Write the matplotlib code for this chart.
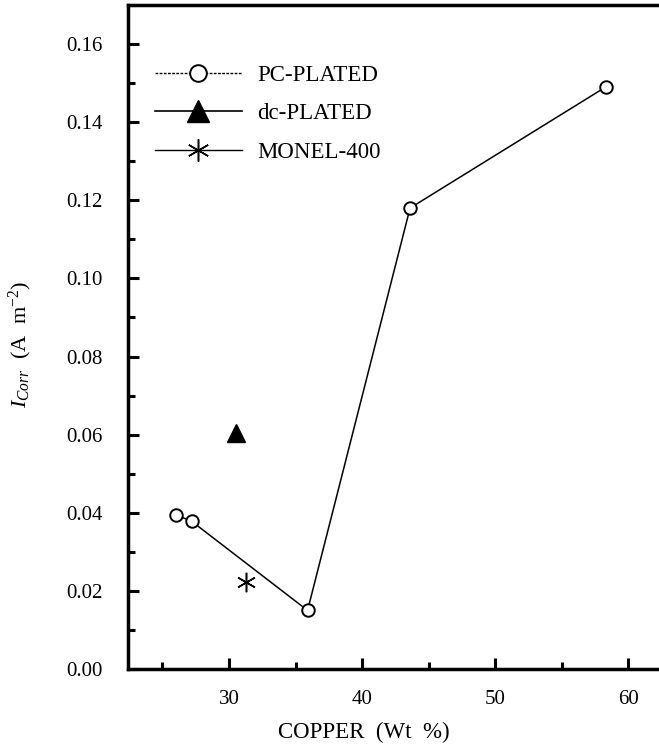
import matplotlib
matplotlib.use('Agg')
import matplotlib.pyplot as plt
import matplotlib.lines as mlines
from matplotlib.ticker import MultipleLocator

plt.rcParams['font.family'] = ['Liberation Serif', 'DejaVu Serif']
plt.rcParams['mathtext.fontset'] = 'custom'
plt.rcParams['mathtext.rm'] = 'Liberation Serif'
plt.rcParams['mathtext.it'] = 'Liberation Serif:italic'

# 数据
pc_copper = [26.0, 27.2, 35.9, 43.6, 58.3]
pc_icorr = [0.0395, 0.0378, 0.0150, 0.118, 0.149]
dc_copper = [30.5]
dc_icorr = [0.0605]
monel_copper = [31.3]
monel_icorr = [0.0222]
x_ticks = [30, 40, 50, 60]
y_ticks = [0.00, 0.02, 0.04, 0.06, 0.08, 0.10, 0.12, 0.14, 0.16]
legend_labels = ['PC-PLATED', 'dc-PLATED', 'MONEL-400']

fig = plt.figure(figsize=(6.59, 7.47), dpi=100)
ax = fig.add_axes([0.194, 0.1044, 0.806, 0.889])

ax.plot(pc_copper, pc_icorr, color='black', lw=1.1, marker='o', ms=9,
        mfc='white', mec='black', mew=1.4)
ax.plot(dc_copper, dc_icorr, color='black', marker='^', ms=13,
        mfc='black', mec='black', linestyle='none')
ax.plot(monel_copper, monel_icorr, color='black', marker=(6, 2, 0),
        ms=14, mew=1.1, linestyle='none')

ax.set_xlim(22.4, 62.3)
ax.set_ylim(0, 0.17)
ax.set_xticks(x_ticks)
ax.set_yticks(y_ticks)
ax.set_yticklabels([f'{v:.2f}' for v in y_ticks])
ax.xaxis.set_minor_locator(MultipleLocator(5))
ax.yaxis.set_minor_locator(MultipleLocator(0.01))

ax.tick_params(which='major', direction='in', length=8, width=2.2, labelsize=15)
ax.tick_params(which='minor', direction='in', length=5, width=2.2)
ax.tick_params(axis='x', which='major', pad=15)
ax.tick_params(axis='y', which='major', pad=18)

for side in ['left', 'bottom', 'top']:
    ax.spines[side].set_linewidth(2.5)
ax.spines['right'].set_visible(False)

ax.set_xlabel('COPPER  (Wt  %)', fontsize=16.5)
ax.xaxis.set_label_coords(0.444, -0.080)
ax.set_ylabel(r'$I_{Corr}$  (A  m$^{-2}$)', fontsize=16)
ax.yaxis.set_label_coords(-0.176, 0.488)

# 图例: 左上, 带线段
leg_handles = [
    mlines.Line2D([], [], color='black', lw=1.0, ls=(0, (2, 1)), marker='o', ms=12,
                  mfc='white', mec='black', mew=1.4),
    mlines.Line2D([], [], color='black', lw=1.2, marker='^', ms=16, mfc='black'),
    mlines.Line2D([], [], color='black', lw=1.0, marker=(6, 2, 0), ms=16, mew=1.1),
]
ax.legend(leg_handles, legend_labels,
          loc='upper left', bbox_to_anchor=(0.051, 0.910), frameon=False,
          borderpad=0, borderaxespad=0,
          fontsize=16.5, handlelength=3.8, handletextpad=0.65, labelspacing=0.76)

fig.savefig('out.png', dpi=100)
